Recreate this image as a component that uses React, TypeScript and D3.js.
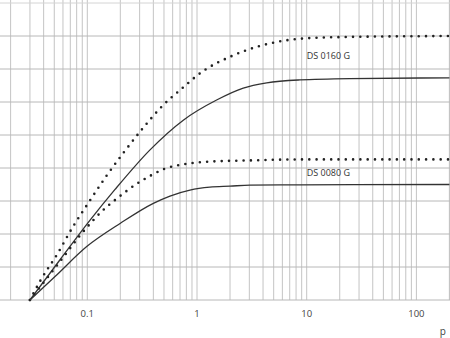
import React from "react";
import * as d3 from "d3";

const WIDTH = 450;
const HEIGHT = 338;

const xTicks = [0.1, 1, 10, 100];
const xTickLabels = ["0.1", "1", "10", "100"];
const yGridCount = 9;

const upperDottedP = [0.03, 0.038, 0.053, 0.074, 0.104, 0.148, 0.216, 0.32, 0.49, 0.7, 1.14, 2, 3.67, 6.9, 16, 200];
const upperDottedY = [0, 0.63, 1.38, 2.22, 2.98, 3.74, 4.48, 5.2, 5.9, 6.36, 6.94, 7.37, 7.69, 7.88, 7.96, 8.0];

const upperSolidP = [0.03, 0.0564, 0.106, 0.179, 0.373, 0.75, 1.51, 2.64, 4.32, 8.68, 24.8, 200];
const upperSolidY = [0, 1.22, 2.42, 3.35, 4.55, 5.45, 6.06, 6.42, 6.58, 6.67, 6.71, 6.73];

const lowerDottedP = [0.03, 0.0508, 0.0973, 0.135, 0.192, 0.282, 0.373, 0.493, 0.778, 1.25, 3.04, 8.68, 200];
const lowerDottedY = [0, 0.97, 2.17, 2.68, 3.11, 3.52, 3.76, 3.96, 4.12, 4.19, 4.23, 4.26, 4.26];

const lowerSolidP = [0.03, 0.0508, 0.0988, 0.199, 0.4, 0.567, 0.863, 1.31, 2.0, 3.04, 8.68, 200];
const lowerSolidY = [0, 0.71, 1.62, 2.32, 2.93, 3.15, 3.33, 3.42, 3.45, 3.48, 3.49, 3.5];

const labels = ["DS 0160 G", "DS 0080 G"];
const labelP = [10, 10];
const labelY = [7.3, 3.76];

const gridValues: number[] = [];
for (const dec of [0.01, 0.1, 1, 10, 100]) {
  for (let k = 1; k <= 9; k++) {
    const v = +(dec * k).toPrecision(3);
    if (v >= 0.02 && v <= 200) gridValues.push(v);
  }
}
gridValues.push(200);

export default function App() {
  const x = d3.scaleLog().domain([0.1, 100]).range([87.3, 416.4]);
  const y = d3.scaleLinear().domain([0, yGridCount]).range([300, 3]);

  const line = d3
    .line<[number, number]>()
    .x((d) => x(d[0]))
    .y((d) => y(d[1]))
    .curve(d3.curveMonotoneX);

  const zip = (a: number[], b: number[]) => a.map((v, i) => [v, b[i]] as [number, number]);

  const series = [
    { d: zip(upperDottedP, upperDottedY), dotted: true },
    { d: zip(upperSolidP, upperSolidY), dotted: false },
    { d: zip(lowerDottedP, lowerDottedY), dotted: true },
    { d: zip(lowerSolidP, lowerSolidY), dotted: false },
  ];

  const font = "'Open Sans', 'DejaVu Sans', sans-serif";

  return (
    <svg
      width={WIDTH}
      height={HEIGHT}
      style={{ position: "absolute", left: 0, top: 0, background: "#fff" }}
    >
      <rect x={0} y={0} width={WIDTH} height={HEIGHT} fill="#fff" />
      {gridValues.map((v, i) => (
        <line
          key={"v" + i}
          x1={x(v)}
          x2={x(v)}
          y1={0}
          y2={y(0)}
          stroke="#c4c4c4"
          strokeWidth={1}
        />
      ))}
      {d3.range(0, yGridCount + 1).map((v) => (
        <line
          key={"h" + v}
          x1={0}
          x2={WIDTH}
          y1={y(v)}
          y2={y(v)}
          stroke={v === yGridCount ? "#d4d4d4" : "#b8b8b8"}
          strokeWidth={1}
        />
      ))}
      {series.map((s, i) => (
        <path
          key={"s" + i}
          d={line(s.d) || ""}
          fill="none"
          stroke={s.dotted ? "#222" : "#333"}
          strokeWidth={s.dotted ? 2.6 : 1.3}
          strokeDasharray={s.dotted ? "0 7.3" : undefined}
          strokeLinecap={s.dotted ? "round" : "butt"}
        />
      ))}
      {labels.map((t, i) => (
        <text
          key={"l" + i}
          x={x(labelP[i])}
          y={y(labelY[i])}
          fontFamily={font}
          fontSize={9}
          fill="#333"
        >
          {t}
        </text>
      ))}
      {xTicks.map((v, i) => (
        <text
          key={"t" + i}
          x={x(v)}
          y={317}
          textAnchor="middle"
          fontFamily={font}
          fontSize={9.5}
          fill="#444"
        >
          {xTickLabels[i]}
        </text>
      ))}
      <text x={442.7} y={335} textAnchor="middle" fontFamily={font} fontSize={10} fill="#444">
        p
      </text>
    </svg>
  );
}
